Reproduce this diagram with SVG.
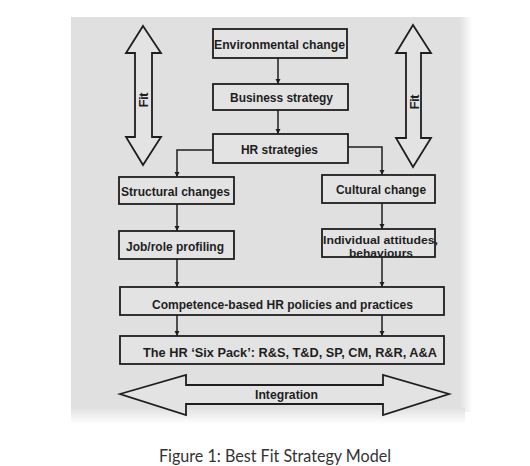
<svg xmlns="http://www.w3.org/2000/svg" width="530" height="466" viewBox="0 0 530 466">
<defs>
<style>
.box{fill:#e3e3e3;stroke:#1e1e1e;stroke-width:1.8}
.big{fill:#e3e3e3;stroke:#1e1e1e;stroke-width:1.8;stroke-linejoin:miter}
.lbl{font-family:"Liberation Sans",Arial,sans-serif;font-weight:bold;font-size:13.5px;fill:#1e1e1e;text-anchor:middle}
.sm{font-size:11.5px}
.con{fill:none;stroke:#1e1e1e;stroke-width:1.5}
.cap{font-family:Lato,"Open Sans",sans-serif;font-size:17px;fill:#333;text-anchor:middle}
</style>
<marker id="ah" viewBox="0 0 8 8" refX="8" refY="4" markerWidth="3.6" markerHeight="3.6" orient="auto" markerUnits="strokeWidth">
<path d="M0,0 L8,4 L0,8 Z" fill="#1e1e1e"/>
</marker>
<linearGradient id="rfade" x1="0" y1="0" x2="1" y2="0">
<stop offset="0" stop-color="#e0e0e0"/>
<stop offset="1" stop-color="#ffffff"/>
</linearGradient>
<linearGradient id="bfade" x1="0" y1="0" x2="0" y2="1">
<stop offset="0" stop-color="#e0e0e0"/>
<stop offset="1" stop-color="#ffffff"/>
</linearGradient>
</defs>
<rect width="530" height="466" fill="#ffffff"/>
<g id="panel">
<rect x="71" y="17" width="394" height="395" fill="#e0e0e0"/>
<rect x="460" y="17" width="12" height="395" fill="url(#rfade)"/>
<rect x="71" y="408" width="394" height="16" fill="url(#bfade)"/>
</g>
<g id="fit-left">
<polygon class="big" points="143,26 161,53 152,53 152,137 161,137 143,165 126,137 135,137 135,53 126,53"/>
<text class="lbl" transform="translate(148,100) rotate(-90)" textLength="15" font-size="12">Fit</text>
</g>
<g id="fit-right">
<polygon class="big" points="413,25 431,53 421,53 421,138 431,138 413,167 396,138 406,138 406,53 396,53"/>
<text class="lbl" transform="translate(418.5,102) rotate(-90)" textLength="15" font-size="12">Fit</text>
</g>
<g id="integration">
<polygon class="big" points="120,394 186,375 186,385 383,385 383,375 449,394 383,415 383,404 186,404 186,415"/>
<text class="lbl" x="286.5" y="398.5" textLength="63" lengthAdjust="spacingAndGlyphs">Integration</text>
</g>
<g id="connectors">
<line class="con" x1="278" y1="58" x2="278" y2="84" marker-end="url(#ah)"/>
<line class="con" x1="278" y1="110" x2="278" y2="134" marker-end="url(#ah)"/>
<polyline class="con" points="213,150 177,150 177,177" marker-end="url(#ah)"/>
<polyline class="con" points="348,147 382,147 382,175" marker-end="url(#ah)"/>
<line class="con" x1="177" y1="204" x2="177" y2="231" marker-end="url(#ah)"/>
<line class="con" x1="382" y1="203" x2="382" y2="229" marker-end="url(#ah)"/>
<line class="con" x1="177" y1="259" x2="177" y2="287" marker-end="url(#ah)"/>
<line class="con" x1="382" y1="257" x2="382" y2="287" marker-end="url(#ah)"/>
<line class="con" x1="177" y1="315" x2="177" y2="336" marker-end="url(#ah)"/>
<line class="con" x1="382" y1="315" x2="382" y2="336" marker-end="url(#ah)"/>
</g>
<g id="environmental-change">
<rect class="box" x="213" y="29" width="134" height="29"/>
<text class="lbl" x="279.5" y="48.5" textLength="131" lengthAdjust="spacingAndGlyphs">Environmental change</text>
</g>
<g id="business-strategy">
<rect class="box" x="213" y="84" width="135" height="26"/>
<text class="lbl" x="281.5" y="101.5" textLength="103" lengthAdjust="spacingAndGlyphs">Business strategy</text>
</g>
<g id="hr-strategies">
<rect class="box" x="213" y="134" width="135" height="29"/>
<text class="lbl" x="279.5" y="153.5" textLength="77" lengthAdjust="spacingAndGlyphs">HR strategies</text>
</g>
<g id="structural-changes">
<rect class="box" x="119" y="177" width="115" height="27"/>
<text class="lbl" x="175.5" y="195.5" textLength="109" lengthAdjust="spacingAndGlyphs">Structural changes</text>
</g>
<g id="cultural-change">
<rect class="box" x="322" y="175" width="113" height="28"/>
<text class="lbl" x="381" y="194" textLength="90" lengthAdjust="spacingAndGlyphs">Cultural change</text>
</g>
<g id="job-role-profiling">
<rect class="box" x="119" y="231" width="115" height="28"/>
<text class="lbl" x="175" y="251" textLength="98" lengthAdjust="spacingAndGlyphs">Job/role profiling</text>
</g>
<g id="individual-attitudes">
<rect class="box" x="322" y="229" width="113" height="28"/>
<text class="lbl sm" x="380.5" y="243.5" textLength="115" lengthAdjust="spacingAndGlyphs">Individual attitudes,</text>
<text class="lbl sm" x="381" y="256.5" textLength="64" lengthAdjust="spacingAndGlyphs">behaviours</text>
</g>
<g id="competence-based">
<rect class="box" x="120" y="287" width="324" height="28"/>
<text class="lbl" x="282.5" y="308.5" textLength="261" lengthAdjust="spacingAndGlyphs">Competence-based HR policies and practices</text>
</g>
<g id="six-pack">
<rect class="box" x="120" y="336" width="324" height="28"/>
<text class="lbl" x="290" y="356.5" textLength="294" lengthAdjust="spacingAndGlyphs">The HR ‘Six Pack’: R&amp;S, T&amp;D, SP, CM, R&amp;R, A&amp;A</text>
</g>
<text class="cap" x="275" y="461.5" textLength="232" lengthAdjust="spacingAndGlyphs">Figure 1: Best Fit Strategy Model</text>
</svg>
